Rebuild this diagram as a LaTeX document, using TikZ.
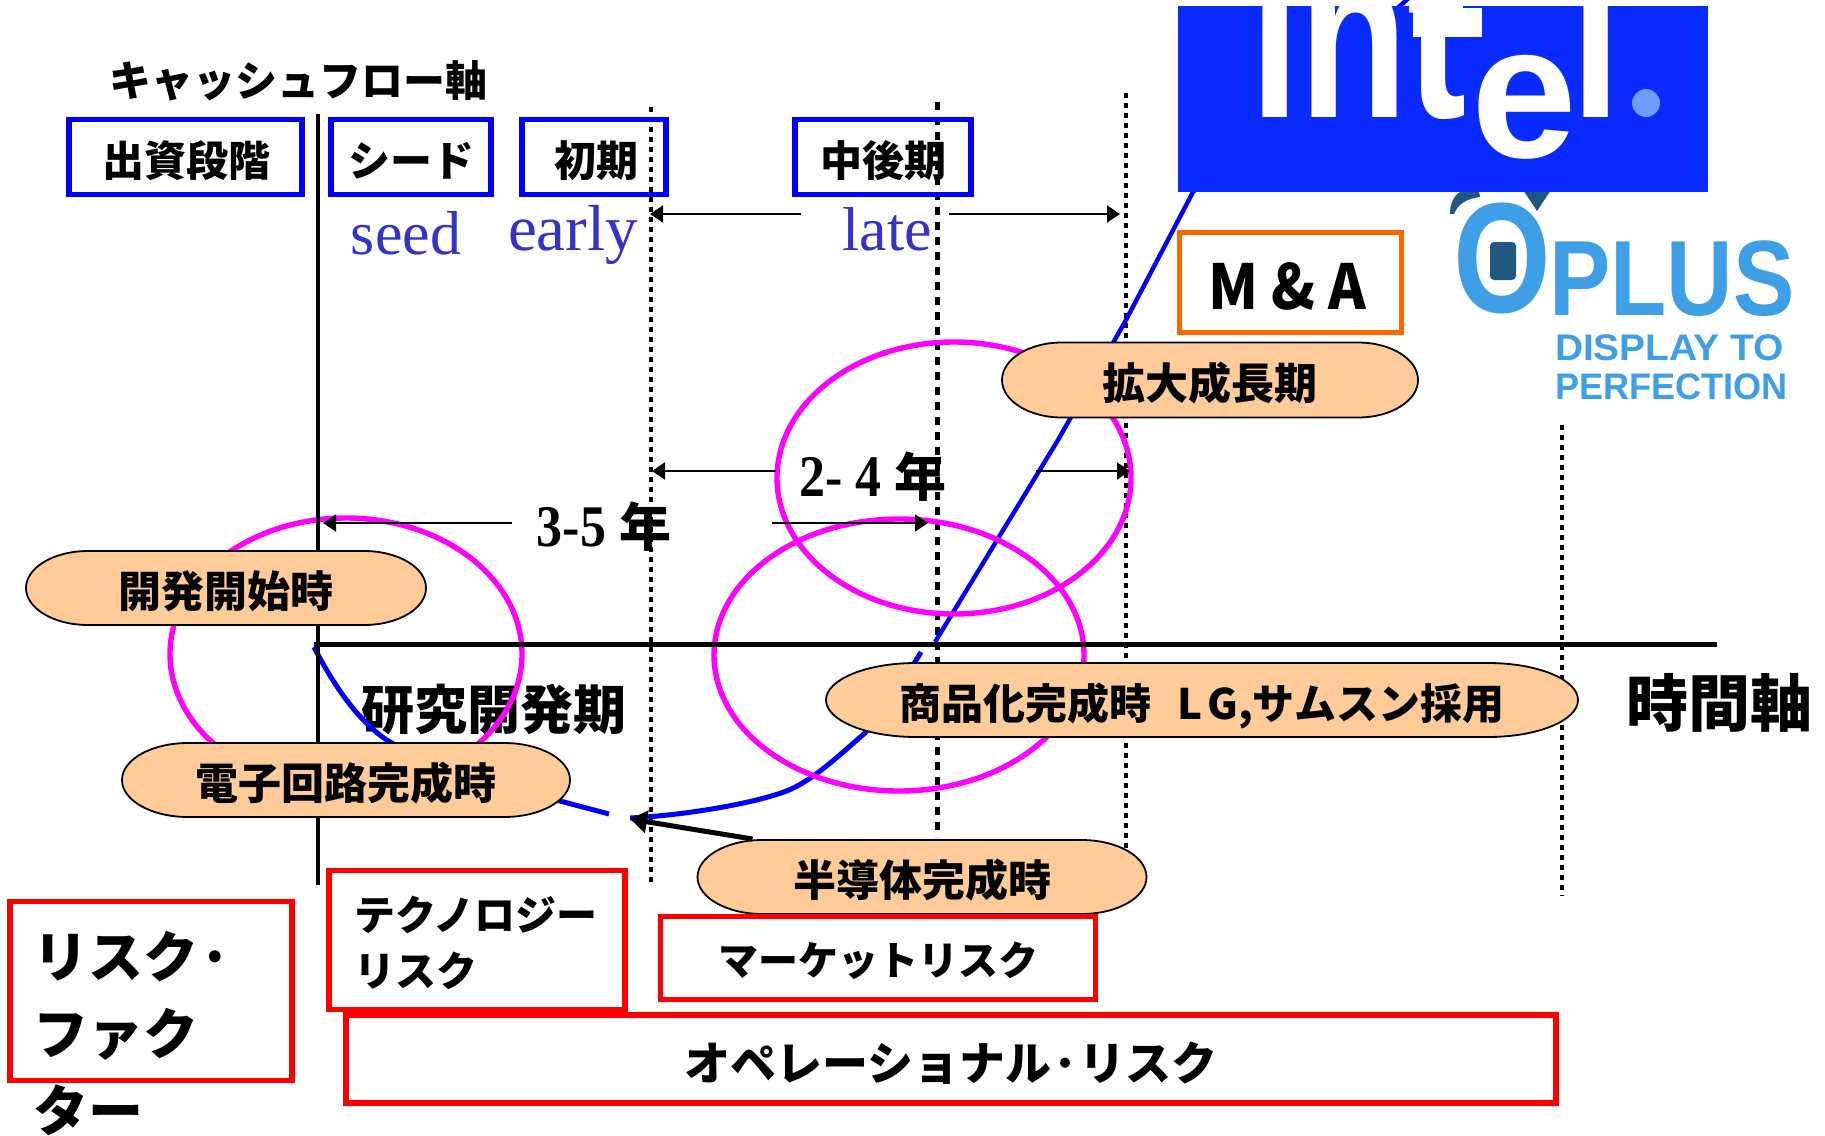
\documentclass[tikz,border=0pt]{standalone}
\usepackage{graphicx}
\usepackage{fontspec}
\setmainfont{Noto Sans CJK JP}
\newfontfamily\jp{Noto Sans CJK JP}
\newfontfamily\serifb{Liberation Serif}
\newfontfamily\logof{Liberation Sans}
\usetikzlibrary{arrows.meta}
\definecolor{stadfill}{HTML}{FFCC99}
\definecolor{intelblue}{HTML}{0A2BFF}
\definecolor{inteldot}{HTML}{6E9CFF}
\definecolor{oplusblue}{HTML}{3F9FE6}
\definecolor{oplusdark}{HTML}{205880}
\definecolor{latintext}{HTML}{3333CC}
\definecolor{orangebox}{HTML}{FF6600}
\definecolor{pureblue}{HTML}{0000FF}
\definecolor{purered}{HTML}{FF0000}
\definecolor{puremag}{HTML}{FF00FF}
\newcommand{\fs}[2]{\fontsize{#1}{#2}\selectfont}
\tikzset{
  every node/.style={inner sep=0pt,outer sep=0pt},
  stadshape/.style={draw=black,line width=1.8pt,fill=stadfill},
  stadtext/.style={font=\jp\bfseries\fs{43}{50},text height=44pt,text depth=5pt},
  bluebox/.style={draw=pureblue,line width=5.2pt,rectangle},
  redbox/.style={draw=purered,line width=5.4pt,rectangle},
  orbox/.style={draw=orangebox,line width=5pt,rectangle},
  lab/.style={font=\jp\bfseries\fs{42}{50}},
  lat/.style={font=\serifb\fs{62}{70},text=latintext},
  yr/.style={font=\serifb\bfseries\fs{52}{60}},
  dotl/.style={draw=black,line width=3.2pt,dash pattern=on 4.5pt off 5.5pt},
  dotb/.style={draw=black,line width=5pt,dash pattern=on 8pt off 7pt},
  curve/.style={draw=pureblue,line width=5pt},
  ring/.style={draw=puremag,line width=5.4pt},
  axis/.style={draw=black,line width=4.6pt},
  arr/.style={draw=black,line width=2pt,-{Triangle[length=13pt,width=17pt]}},
  arrb/.style={draw=black,line width=5pt,-{Triangle[length=17pt,width=22pt]}},
}
% name, centre x, centre y, width, height, end radius, text
\newcommand{\stadium}[7]{%
  \path[stadshape] ({#2-#4/2+#6},{#3-#5/2})
    arc[start angle=90,end angle=270,x radius=#6 pt,y radius={(#5/2)*1pt}]
    -- ({#2+#4/2-#6},{#3+#5/2})
    arc[start angle=270,end angle=450,x radius=#6 pt,y radius={(#5/2)*1pt}]
    -- cycle;
  \node[stadtext,minimum width=#4 pt,minimum height=#5 pt] (#1) at (#2,#3) {#7};
}
\begin{document}
\begin{tikzpicture}[x=1pt,y=-1pt]
\useasboundingbox (0,0) rectangle (1825,1135);
% axis text below the curves
\node[font=\jp\bfseries\fs{53}{60}] (research) at (494,710) {研究開発期};
% dotted period lines
\draw[dotl] (651,107) -- (651,885);
\draw[dotb] (937,102) -- (937,837);
\draw[dotl] (1126,93) -- (1126,855);
\draw[dotl] (1562,425) -- (1562,896);
% growth curve
\draw[curve] (314,647) .. controls (336,690) and (362,725) .. (390,742) .. controls (440,772) and (520,790) .. (609,814);
\draw[curve] (630,818) .. controls (690,815) and (760,802) .. (789,790) .. controls (815,779) and (845,750) .. (865,733) .. controls (880,712) and (908,675) .. (921,652);
\draw[curve,line width=4.4pt] (935,642) -- (1058,440) -- (1126,320) -- (1193,192) -- (1411,-4);
% rings
\draw[ring] (346,654) ellipse [x radius=176,y radius=136];
\draw[ring] (954,478) ellipse [x radius=177,y radius=136];
\draw[ring] (899,655) ellipse [x radius=185,y radius=136];
% axes
\coordinate (ytop) at (318,114);
\coordinate (ybot) at (318,885);
\coordinate (xleft) at (314,644);
\coordinate (xright) at (1717,644);
\draw[axis] (ytop) -- (ybot);
\draw[axis,line width=5pt] (xleft) -- (xright);
% labels
\node[lab] (cash) at (298,81) {キャッシュフロー軸};
\node[font=\jp\bfseries\fs{62}{70}] (time) at (1719,703) {時間軸};
\node[bluebox,minimum width=233pt,minimum height=75pt] (b1) at (185.5,157) {};
\node[lab] (b1t) at (186,161) {出資段階};
\node[bluebox,minimum width=160pt,minimum height=75pt] (b2) at (411,157) {};
\node[lab] (b2t) at (411,161) {シード};
\node[bluebox,minimum width=144pt,minimum height=75pt] (b3) at (594,157) {};
\node[lab] (b3t) at (596,161) {初期};
\node[bluebox,minimum width=176pt,minimum height=75pt] (b4) at (883,157) {};
\node[lab] (b4t) at (883,161) {中後期};
\node[lat] (seed) at (406,233) {seed};
\node[lat,font=\serifb\fs{65}{70}] (early) at (573,235) {early};
\node[lat] (late) at (887,229) {late};
% period arrows
\coordinate (a1s) at (801,214); \coordinate (a1e) at (650,214);
\coordinate (a2s) at (949,214); \coordinate (a2e) at (1120,214);
\coordinate (a3s) at (776,471); \coordinate (a3e) at (652,471);
\coordinate (a4s) at (1036,471); \coordinate (a4e) at (1130,471);
\coordinate (a5s) at (512,523); \coordinate (a5e) at (323,523);
\coordinate (a6s) at (772,523); \coordinate (a6e) at (928,523);
\draw[arr] (a1s) -- (a1e);
\draw[arr] (a2s) -- (a2e);
\draw[arr] (a3s) -- (a3e);
\draw[arr] (a4s) -- (a4e);
\draw[arr] (a5s) -- (a5e);
\draw[arr] (a6s) -- (a6e);
\node[yr] (y24) at (873,477) {\scalebox{.88}[1]{\fs{59}{60}2- 4} {\jp\bfseries 年}};
\node[yr] (y35) at (604,527) {\scalebox{.88}[1]{\fs{59}{60}3-5} {\jp\bfseries 年}};
% orange box
\node[orbox,minimum width=222pt,minimum height=100pt] (ma) at (1290,282) {};
\node[font=\jp\bfseries\fs{62}{70}] (mat) at (1287,286) {\scalebox{.92}[1]{M \& A}};
% stadiums
\stadium{s1}{1210}{380}{416}{75}{60}{拡大成長期}
\stadium{s2}{226}{588}{400}{74}{62}{開発開始時}
\stadium{s3}{1202}{700}{752}{74}{90}{\fs{42}{50}商品化完成時\hspace{0.6em}L\hspace{0.12em}G,サムスン採用}
\stadium{s4}{346}{780}{448}{74}{66}{電子回路完成時}
\stadium{s5}{922}{877}{449}{74}{65}{半導体完成時}
\coordinate (tip) at (630,819);
\draw[arrb] ([xshift=55pt,yshift=1pt]s5.north west) -- (tip);
% red boxes
\node[redbox,minimum width=282pt,minimum height=179pt] (r1) at (151,991) {};
\node[anchor=north west,align=left,font=\jp\bfseries\fs{55}{77}] (r1t) at (33,931) {リスク·\\ファク\\ター};
\node[redbox,minimum width=296pt,minimum height=139pt] (r2) at (477,940) {};
\node[anchor=north west,align=left,font=\jp\bfseries\fs{41}{56}] (r2t) at (354,896) {テクノロジー\\リスク};
\node[redbox,minimum width=435pt,minimum height=83pt] (r3) at (878,958) {};
\node[font=\jp\bfseries\fs{40}{50}] (r3t) at (878,961) {マーケットリスク};
\node[redbox,minimum width=1210pt,minimum height=88pt] (r4) at (951,1059) {};
\node[font=\jp\bfseries\fs{46}{54}] (r4t) at (951,1063) {オペレーショナル·リスク};
% OPLUS logo
\fill[oplusdark] (1450,214) .. controls (1450,196) and (1460,188) .. (1478,186) -- (1480,197) .. controls (1466,199) and (1458,204) .. (1454,214) -- cycle;
\fill[oplusdark] (1523,190) -- (1551,190) -- (1537,211) -- cycle;
\node[text=oplusblue,font=\logof\bfseries\fs{157}{160}] (oo) at (1502,258) {\scalebox{.8}[1]{O}};
\fill[oplusdark,rounded corners=4pt] (1490,242) rectangle (1516,280);
\node[text=oplusblue,font=\logof\bfseries\fs{107}{110},anchor=base west] (plus) at (1549,315) {\scalebox{.86}[1]{PLUS}};
\node[text=oplusblue,font=\logof\bfseries\fs{37}{40},anchor=base west] (disp) at (1555,360) {\scalebox{1.05}[1]{DISPLAY TO}};
\node[text=oplusblue,font=\logof\bfseries\fs{37}{40},anchor=base west] (perf) at (1555,399) {\scalebox{.975}[1]{PERFECTION}};
% Intel logo
\fill[intelblue] (1178,6) rectangle (1708,192);
\begin{scope}
\clip (1178,6) rectangle (1708,192);
\node[text=white,font=\logof\bfseries\fs{240}{250},anchor=base west] (int) at (1250,117) {\scalebox{.74}[1]{int}};
\fill[white] (1413,8) rectangle (1482,37);
\node[text=white,font=\logof\bfseries\fs{190}{200},anchor=base west] (ie) at (1471,157) {e};
\node[text=white,font=\logof\bfseries\fs{240}{250},anchor=base west] (il) at (1571,117) {\scalebox{.74}[1]{l}};
\end{scope}
\fill[inteldot] (1646,103) circle (14);
\end{tikzpicture}
\end{document}
